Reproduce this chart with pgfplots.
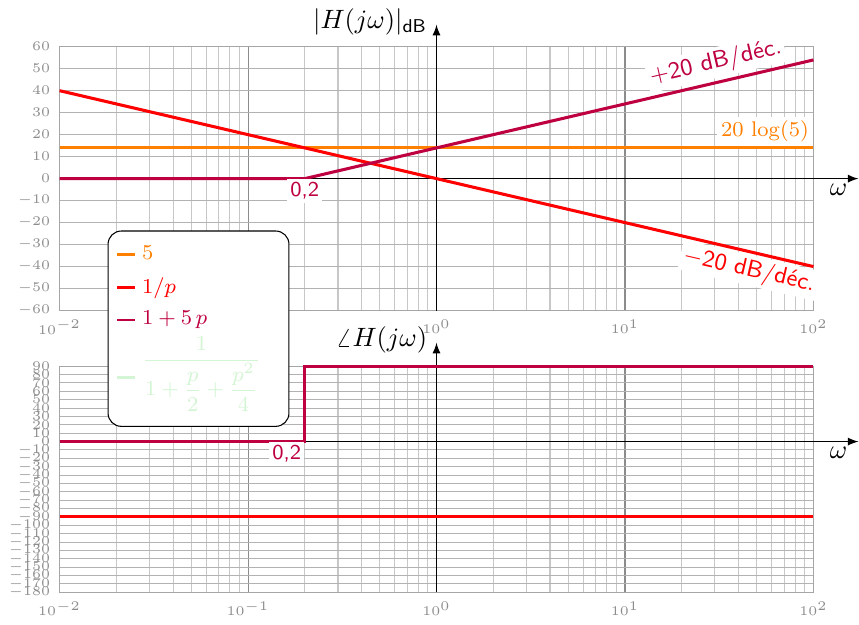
\documentclass[border=0pt]{standalone}
\usepackage{amsmath}
\usepackage{pgfplots}
\pgfplotsset{compat=1.18}

\definecolor{cOrange}{RGB}{255,128,0}
\definecolor{cPurple}{RGB}{191,0,64}
\definecolor{cGreen}{RGB}{212,245,212}

\pgfplotsset{
  every axis/.append style={
    scale only axis, width=10cm,
    xmin=0.01, xmax=100, clip=false,
    grid=both,
    major x grid style={black!45},
    minor x grid style={black!22},
    major y grid style={black!30},
    axis line style={black!35},
    tick label style={font=\tiny, text=black!45},
    major tick length=0pt, minor tick length=0pt,
  },
  every axis plot/.append style={line width=1.15pt},
}
\tikzset{lbl/.style={font=\sffamily\small, fill=white, inner sep=1.2pt}}

\begin{document}
\begin{tikzpicture}
% ---------- gain ----------
\begin{semilogxaxis}[name=top, height=3.5cm,
  ymin=-60, ymax=60, ytick={-60,-50,...,60}]
  \draw[-latex, black, thin] (axis cs:0.01,0) -- ([xshift=17pt]axis cs:100,0)
    node[anchor=north east, xshift=-3pt, yshift=-1pt, inner sep=1pt] {$\omega$};
  \draw[-latex, black, thin] (axis cs:1,-60) -- (axis cs:1,70)
    node[anchor=east, yshift=1pt] {$|H(j\omega)|_{\textsf{dB}}$};

  \addplot[cOrange] coordinates {(0.01,13.98) (100,13.98)};
  \addplot[red]     coordinates {(0.01,40) (100,-40)};
  \addplot[cPurple] coordinates {(0.01,0) (0.2,0) (100,53.98)};

  \node[lbl, font=\sffamily\footnotesize, text=cPurple, anchor=north] at (axis cs:0.2,0) {0,2};
  \node[lbl, text=cPurple, anchor=south, rotate=13, yshift=1.5pt]
    at (axis cs:32,44.1) {$+$20 dB/déc.};
  \node[lbl, text=red, anchor=north, rotate=-13, yshift=-1pt]
    at (axis cs:48,-33.6) {$-$20 dB/déc.};
  \node[fill=white, inner sep=1.5pt, text=cOrange, anchor=south east, font=\footnotesize]
    at (axis cs:100,14.5) {$20\,\log(5)$};
\end{semilogxaxis}

% ---------- phase ----------
\begin{semilogxaxis}[at={(top.south west)}, yshift=-21pt, anchor=north west,
  height=3cm, ymin=-180, ymax=90, ytick={-180,-170,...,90},
  legend style={at={(rel axis cs:0.0636,1.6)}, anchor=north west,
    draw=black, fill=white, rounded corners=5pt,
    inner xsep=3pt, inner ysep=3.5pt, font=\footnotesize,
    column sep=0pt, row sep=1.3pt},
  legend cell align=left,
  legend image code/.code={\draw[#1] (0cm,0cm) -- (0.24cm,0cm);}]
  \draw[-latex, black, thin] (axis cs:0.01,0) -- ([xshift=17pt]axis cs:100,0)
    node[anchor=north east, xshift=-3pt, yshift=-1pt, inner sep=1pt] {$\omega$};
  \draw[-latex, black, thin] (axis cs:1,-180) -- (axis cs:1,118)
    node[anchor=east, yshift=1pt] {$\angle H(j\omega)$};

  \addplot[red, forget plot]     coordinates {(0.01,-90) (100,-90)};
  \addplot[cPurple, forget plot] coordinates {(0.01,0) (0.2,0) (0.2,90) (100,90)};

  \node[lbl, font=\sffamily\footnotesize, text=cPurple, anchor=north east] at (axis cs:0.2,0) {0,2};

  \addlegendimage{cOrange, line width=1pt}
  \addlegendentry{\textcolor{cOrange}{$5$}}
  \addlegendimage{red, line width=1pt}
  \addlegendentry{\textcolor{red}{$1/p$}}
  \addlegendimage{cPurple, line width=1pt}
  \addlegendentry{\textcolor{cPurple}{$1+5\,p$}}
  \addlegendimage{cGreen, line width=1pt}
  \addlegendentry[text height=8.5pt, text depth=]%
    {\textcolor{cGreen}{$\dfrac{1}{1+\dfrac{p}{2}+\dfrac{p^2}{4}}$}\rule{5.5pt}{0pt}}
\end{semilogxaxis}
\end{tikzpicture}
\end{document}
